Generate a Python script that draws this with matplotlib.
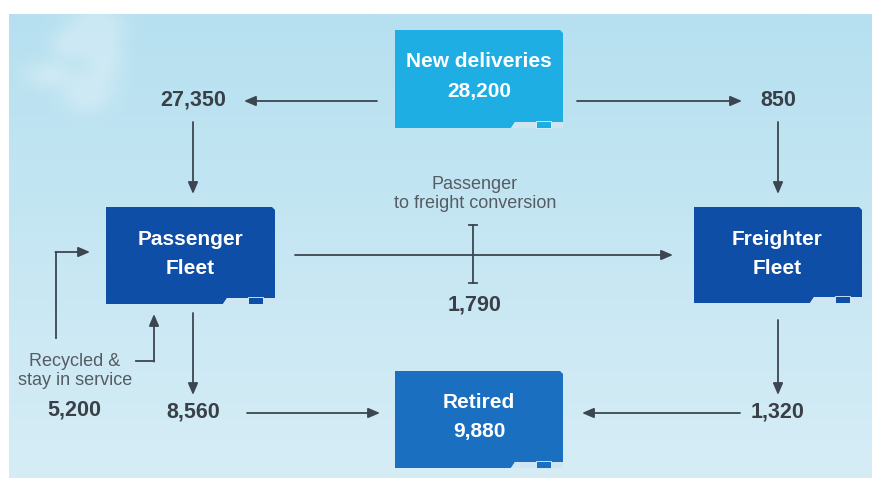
import matplotlib
matplotlib.use("Agg")
import matplotlib.pyplot as plt
import numpy as np
from matplotlib.patches import Polygon, Rectangle

# node data
node_titles = ["New deliveries", "Passenger", "Freighter", "Retired"]
node_subtitles = ["28,200", "Fleet", "Fleet", "9,880"]

# flow values
new_to_passenger = 27350
new_to_freighter = 850
conversion = 1790
passenger_to_retired = 8560
freighter_to_retired = 1320
recycled = 5200

conversion_label = "Passenger\nto freight conversion"
recycled_label = "Recycled &\nstay in service"

W, H = 872, 478
ARROW = "#3c4650"
LABEL = "#555c63"
FONT = ["Liberation Sans", "DejaVu Sans"]

fig = plt.figure(figsize=(W / 100, H / 100), dpi=100)
fig.patch.set_facecolor("white")
ax = fig.add_axes([0, 0, 1, 1])
ax.set_xlim(0, W)
ax.set_ylim(H, 0)
ax.axis("off")

# sky background gradient
top = np.array([182, 224, 240]) / 255
bot = np.array([214, 237, 246]) / 255
t = np.linspace(0, 1, 200)[:, None, None]
grad = top * (1 - t) + bot * t
grad = np.repeat(grad, 2, axis=1)
ax.imshow(grad, extent=(9, W, H, 14), aspect="auto", zorder=0)

# faint wispy cloud at the top left (soft blobs)
yy, xx = np.mgrid[0:140, 0:200]
alpha = np.zeros_like(xx, dtype=float)
for cx, cy, sx, sy in [(85, 10, 20, 14), (95, 45, 14, 22), (75, 80, 16, 14), (40, 60, 18, 10), (60, 30, 14, 10)]:
    alpha += np.exp(-(((xx - cx) / sx) ** 2 + ((yy - cy) / sy) ** 2) / 2)
cloud = np.ones((140, 200, 4))
cloud[..., 3] = np.clip(alpha, 0, 1) * 0.28
ax.imshow(cloud, extent=(9, 209, 154, 14), aspect="auto", zorder=1)


def draw_box(x0, y0, x1, y1, color):
    pts = [(x0, y0), (x1 - 3, y0), (x1, y0 + 3), (x1, y1), (x1 - 40, y1),
           (x1 - 45, y1 - 6), (x1 - 48, y1 - 6), (x1 - 52, y1), (x0, y1)]
    ax.add_patch(Polygon(pts, closed=True, fc=color, ec="none", zorder=2))
    # light notch strip at the bottom right
    ax.add_patch(Polygon([(x1 - 52, y1), (x1 - 48, y1 - 6), (x1, y1 - 6), (x1, y1)],
                         closed=True, fc="#cfe6f2", ec="none", zorder=2))
    ax.add_patch(Rectangle((x1 - 27, y1 - 7), 15, 7, fc=color, ec="#e6f2f8", lw=0.6, zorder=3))


def box_text(x, y1, y2, title, sub):
    ax.text(x, y1, title, ha="center", va="center", color="white", fontsize=15,
            fontweight="bold", family=FONT, zorder=4)
    ax.text(x, y2, sub, ha="center", va="center", color="white", fontsize=15,
            fontweight="bold", family=FONT, zorder=4)


boxes = [
    ((395, 30, 563, 128), "#1eaee4", (479, 61, 91)),
    ((106, 207, 275, 304), "#0f4ea6", (190, 239, 269)),
    ((694, 207, 862, 303), "#0f4ea6", (777, 239, 268)),
    ((395, 371, 563, 468), "#1a6fc0", (479, 403, 432)),
]
for (b, col, (tx, ty1, ty2)), title, sub in zip(boxes, node_titles, node_subtitles):
    draw_box(*b, col)
    box_text(tx, ty1, ty2, title, sub)


def arrow(x0, y0, x1, y1):
    ax.annotate("", xy=(x1, y1), xytext=(x0, y0),
                arrowprops=dict(arrowstyle="-|>,head_length=0.7,head_width=0.3",
                                color=ARROW, lw=1.3, shrinkA=0, shrinkB=0),
                zorder=3)


def number(x, y, v):
    ax.text(x, y, f"{v:,}", ha="center", va="center", color="#3a4048", fontsize=15.5,
            fontweight="bold", family=FONT, zorder=4)


# new deliveries split
number(193, 100, new_to_passenger)
arrow(377, 101, 244, 101)
arrow(193, 122, 193, 194)
number(778, 100, new_to_freighter)
arrow(577, 101, 742, 101)
arrow(778, 122, 778, 194)

# conversion
arrow(295, 255, 673, 255)
ax.text(475, 194, conversion_label, ha="center", va="center", color=LABEL, fontsize=13,
        family=FONT, linespacing=1.15, zorder=4)
ax.plot([473, 473], [225, 283], color=ARROW, lw=1.3, zorder=3)
ax.plot([469, 477], [225, 225], color=ARROW, lw=1.3, zorder=3)
ax.plot([469, 477], [283, 283], color=ARROW, lw=1.3, zorder=3)
number(475, 305, conversion)

# to retired
arrow(193, 313, 193, 395)
number(193, 412, passenger_to_retired)
arrow(247, 413, 380, 413)
arrow(778, 320, 778, 395)
number(778, 412, freighter_to_retired)
arrow(740, 413, 582, 413)

# recycled
ax.plot([56, 56], [338, 252], color=ARROW, lw=1.3, zorder=3)
arrow(55.4, 252, 90, 252)
ax.plot([136, 154], [361, 361], color=ARROW, lw=1.3, zorder=3)
arrow(154, 361.6, 154, 314)
ax.text(75, 371, recycled_label, ha="center", va="center", color=LABEL, fontsize=13,
        family=FONT, linespacing=1.15, zorder=4)
number(74, 410, recycled)

fig.savefig("out.png", dpi=100, facecolor="white")
